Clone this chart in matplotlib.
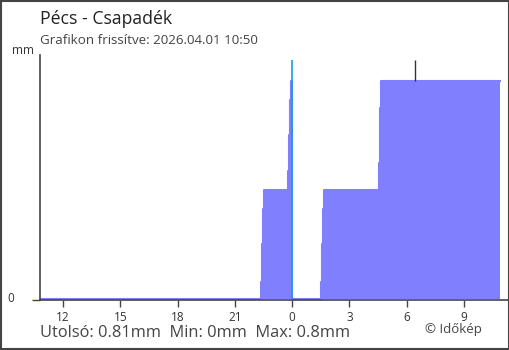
import matplotlib
matplotlib.use("Agg")
import matplotlib.pyplot as plt
from matplotlib.patches import Rectangle

# precipitation (mm), hours relative to midnight, step data
times = [-13.17, -1.62, -1.57, -1.52, -1.47, -0.21, -0.16, -0.10, -0.05, 0.0,
         1.52, 1.57, 1.62, 1.68, 4.55, 4.61, 4.66, 10.89]
values = [0.0, 0.06, 0.20, 0.33, 0.40, 0.47, 0.60, 0.73, 0.80, 0.0,
          0.06, 0.20, 0.33, 0.40, 0.50, 0.70, 0.80, 0.80]
tick_pos = [-12, -9, -6, -3, 0, 3, 6, 9]
tick_labels = ["12", "15", "18", "21", "0", "3", "6", "9"]
marker_time = 6.44
marker_lo, marker_hi = 0.80, 0.877
midnight_top = 0.877

title = "Pécs - Csapadék"
subtitle = "Grafikon frissítve: 2026.04.01 10:50"
stats = "Utolsó: 0.81mm  Min: 0mm  Max: 0.8mm"
credit = "© Időkép"

W, H = 510, 350
plt.rcParams["font.family"] = ["Open Sans", "DejaVu Sans"]
fig = plt.figure(figsize=(W / 100, H / 100), dpi=100)
fig.patch.set_facecolor("white")

def fx(px):
    return px / W

def fy(py):
    return 1 - py / H

ax = fig.add_axes([fx(40), fy(300), fx(508) - fx(40), fy(55) - fy(300)])
x0 = -13.2
x1 = x0 + (508 - 40) / 19.1
ax.set_xlim(x0, x1)
ax.set_ylim(-0.005, 0.895)

fill_col = "#8080ff"
ax.fill_between(times, values, step="post", color=fill_col, linewidth=0)
ax.step(times, values, where="post", color=fill_col, linewidth=1.5)
ax.vlines(0, 0, midnight_top, color="#1a9be0", linewidth=1.2, zorder=3)
ax.vlines(marker_time, marker_lo, marker_hi, color="#333333", linewidth=1)

for s in ["top", "right"]:
    ax.spines[s].set_visible(False)
for s in ["left", "bottom"]:
    ax.spines[s].set_color("#444444")
    ax.spines[s].set_linewidth(1.2)

ax.set_xticks(tick_pos)
ax.set_xticklabels(tick_labels, fontsize=8.5, color="#333333")
ax.tick_params(axis="x", length=5, width=1, color="#444444", pad=3)
for t, lab in zip(ax.xaxis.get_major_ticks(), tick_labels):
    if lab == "0":
        t.tick1line.set_color("#1a9be0")
ax.set_yticks([-0.005])
ax.set_yticklabels([])
ax.tick_params(axis="y", length=6, width=1, color="#444444")

fig.text(fx(7), fy(299), "0", fontsize=8.5, color="#333333", va="center", ha="left")
fig.text(fx(12), fy(51), "mm", fontsize=8.5, color="#333333", va="center", ha="left")
fig.text(fx(40), fy(19), title, fontsize=12.7, color="#222222", va="center", ha="left")
fig.text(fx(40), fy(40), subtitle, fontsize=9.6, color="#444444", va="center", ha="left")
fig.text(fx(40), fy(333), stats, fontsize=11.8, color="#444444", va="center", ha="left")
fig.text(fx(482), fy(330), credit, fontsize=9.5, color="#444444", va="center", ha="right")

fig.add_artist(Rectangle((0.001, 0.002), 0.997, 0.995, transform=fig.transFigure,
                         fill=False, edgecolor="#444444", linewidth=1.5))

fig.savefig("out.png", dpi=100)
